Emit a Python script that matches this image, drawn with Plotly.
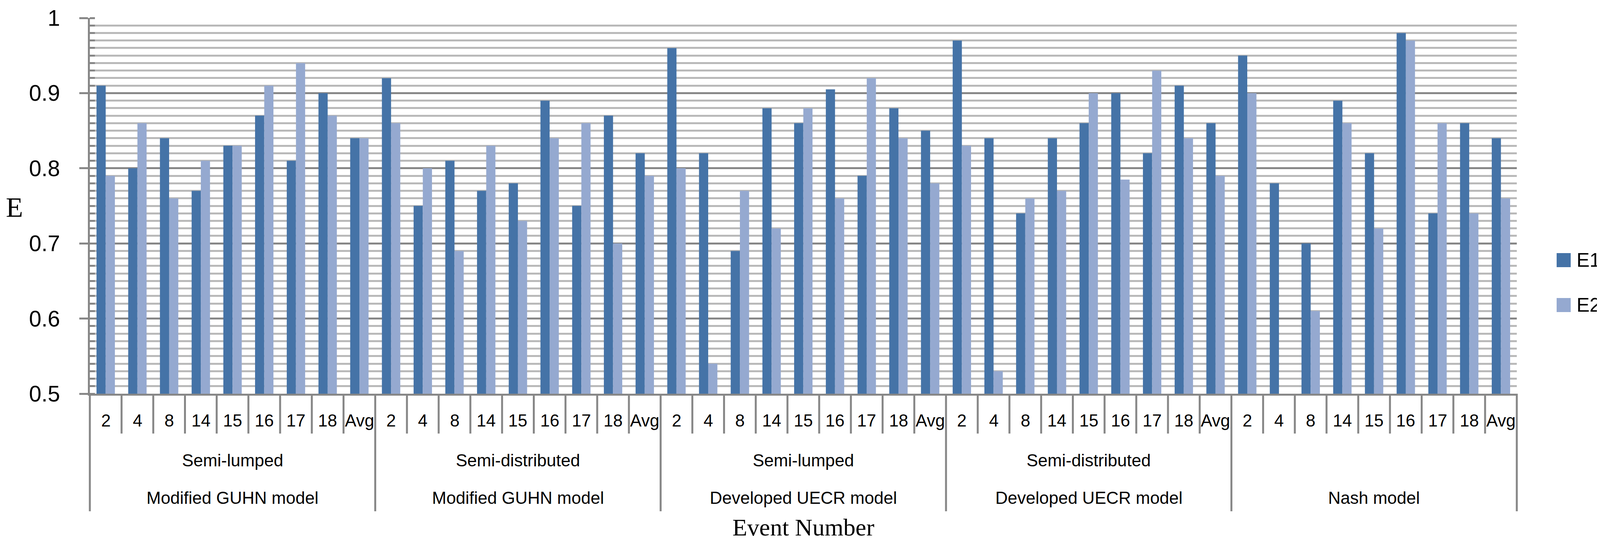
import plotly.graph_objects as go

# ---------------- data ----------------
events = ["2", "4", "8", "14", "15", "16", "17", "18", "Avg"]
approach = ["Semi-lumped", "Semi-distributed", "Semi-lumped", "Semi-distributed", ""]
models = ["Modified GUHN model", "Modified GUHN model", "Developed UECR model",
          "Developed UECR model", "Nash model"]

e1_guhn_sl = [0.91, 0.80, 0.84, 0.77, 0.83, 0.87, 0.81, 0.90, 0.84]
e1_guhn_sd = [0.92, 0.75, 0.81, 0.77, 0.78, 0.89, 0.75, 0.87, 0.82]
e1_uecr_sl = [0.96, 0.82, 0.69, 0.88, 0.86, 0.905, 0.79, 0.88, 0.85]
e1_uecr_sd = [0.97, 0.84, 0.74, 0.84, 0.86, 0.90, 0.82, 0.91, 0.86]
e1_nash = [0.95, 0.78, 0.70, 0.89, 0.82, 0.98, 0.74, 0.86, 0.84]

e2_guhn_sl = [0.79, 0.86, 0.76, 0.81, 0.83, 0.91, 0.94, 0.87, 0.84]
e2_guhn_sd = [0.86, 0.80, 0.69, 0.83, 0.73, 0.84, 0.86, 0.70, 0.79]
e2_uecr_sl = [0.80, 0.54, 0.77, 0.72, 0.88, 0.76, 0.92, 0.84, 0.78]
e2_uecr_sd = [0.83, 0.53, 0.76, 0.77, 0.90, 0.785, 0.93, 0.84, 0.79]
e2_nash = [0.90, 0.498, 0.61, 0.86, 0.72, 0.97, 0.86, 0.74, 0.76]

series_names = ["E1", "E2"]
y_ticks = [0.5, 0.6, 0.7, 0.8, 0.9, 1.0]

# ---------------- layout constants ----------------
W, H = 4099, 1380
L, R, T, B = 222, 224, 38, 380
PW, PH = W - L - R, H - T - B
GRID_MAJOR = "#878787"
GRID_MINOR = "#b9b9b9"
C1, C2 = "#4573a7", "#95a9d0"
SANS = "Liberation Sans, Arial, sans-serif"
SERIF = "Liberation Serif, Times New Roman, serif"


def py2paper(py):
    return (H - B - py) / PH


def px2paper(px):
    return (px - L) / PW


e1_groups = [e1_guhn_sl, e1_guhn_sd, e1_uecr_sl, e1_uecr_sd, e1_nash]
e2_groups = [e2_guhn_sl, e2_guhn_sd, e2_uecr_sl, e2_uecr_sd, e2_nash]
n_ev = len(events)
n_grp = len(models)

xs, e1_vals, e2_vals, hover_lbl = [], [], [], []
for g in range(n_grp):
    for i, ev in enumerate(events):
        xs.append(g * n_ev + i)
        e1_vals.append(e1_groups[g][i])
        e2_vals.append(e2_groups[g][i])
        hover_lbl.append(f"{models[g]} {approach[g]} - {ev}")

fig = go.Figure()
fig.add_trace(go.Bar(x=xs, y=e1_vals, name=series_names[0], marker_color=C1,
                     marker_line_width=0, customdata=hover_lbl,
                     hovertemplate="%{customdata}<br>E1=%{y}<extra></extra>"))
fig.add_trace(go.Bar(x=xs, y=e2_vals, name=series_names[1], marker_color=C2,
                     marker_line_width=0, customdata=hover_lbl,
                     hovertemplate="%{customdata}<br>E2=%{y}<extra></extra>"))

annotations = []
shapes = []

# event labels and short dividers
for g in range(n_grp):
    for i, ev in enumerate(events):
        annotations.append(dict(x=g * n_ev + i, xref="x", y=py2paper(1068), yref="paper",
                                text=ev, showarrow=False, yanchor="middle",
                                font=dict(family=SANS, size=44, color="black")))
        if i < n_ev - 1:
            shapes.append(dict(type="line", xref="x", yref="paper",
                               x0=g * n_ev + i + 0.5, x1=g * n_ev + i + 0.5,
                               y0=0, y1=py2paper(1102),
                               line=dict(color=GRID_MAJOR, width=5)))
    center = g * n_ev + (n_ev - 1) / 2
    if approach[g]:
        annotations.append(dict(x=center, xref="x", y=py2paper(1170), yref="paper",
                                text=approach[g], showarrow=False, yanchor="middle",
                                font=dict(family=SANS, size=44, color="black")))
    annotations.append(dict(x=center, xref="x", y=py2paper(1266), yref="paper",
                            text=models[g], showarrow=False, yanchor="middle",
                            font=dict(family=SANS, size=44, color="black")))
    if g > 0:
        shapes.append(dict(type="line", xref="x", yref="paper",
                           x0=g * n_ev - 0.5, x1=g * n_ev - 0.5,
                           y0=0, y1=py2paper(1301),
                           line=dict(color=GRID_MAJOR, width=5)))

# outer edges of the category table
for xd in (0, 1):
    shapes.append(dict(type="line", xref="x domain", yref="paper", x0=xd, x1=xd,
                       y0=0, y1=py2paper(1301), line=dict(color=GRID_MAJOR, width=5)))

# manual legend (large square keys)
for k, (nm, col) in enumerate(zip(series_names, [C1, C2])):
    top = 640 + k * 115
    shapes.append(dict(type="rect", xref="paper", yref="paper",
                       x0=px2paper(3977), x1=px2paper(4013),
                       y0=py2paper(top + 36), y1=py2paper(top),
                       fillcolor=col, line=dict(width=0)))
    annotations.append(dict(x=px2paper(4026), xref="paper", y=py2paper(top + 18), yref="paper",
                            text=nm, showarrow=False, xanchor="left", yanchor="middle",
                            font=dict(family=SANS, size=50, color="black")))

# axis title "Event Number"
annotations.append(dict(x=0.5, xref="paper", y=py2paper(1378), yref="paper",
                        text="Event Number", showarrow=False, yanchor="bottom",
                        font=dict(family=SERIF, size=62, color="black")))
# axis title "E"
annotations.append(dict(x=px2paper(29), xref="paper", y=py2paper(523), yref="paper",
                        text="E", showarrow=False, xanchor="center", yanchor="middle",
                        font=dict(family=SERIF, size=72, color="black")))

fig.update_layout(
    width=W, height=H,
    margin=dict(l=L, r=R, t=T, b=B, autoexpand=False),
    paper_bgcolor="white", plot_bgcolor="white",
    barmode="group", bargap=0.42, bargroupgap=0,
    showlegend=False,
    annotations=annotations, shapes=shapes,
    xaxis=dict(range=[-0.5, n_grp * n_ev - 0.5], showticklabels=False, ticks="",
               showgrid=False, zeroline=False, showline=True,
               linecolor=GRID_MAJOR, linewidth=5, automargin=False, fixedrange=True),
    yaxis=dict(range=[0.5, 1.0], tickmode="array", tickvals=y_ticks,
               ticktext=[f"{v:g}" for v in y_ticks],
               showgrid=True, gridcolor=GRID_MAJOR, gridwidth=5,
               ticks="outside", ticklen=22, tickwidth=5, tickcolor=GRID_MAJOR,
               showline=True, linecolor=GRID_MAJOR, linewidth=5, zeroline=False,
               tickfont=dict(family=SANS, size=57, color="black"),
               ticklabelstandoff=38, automargin=False,
               minor=dict(tick0=0.5, dtick=0.01, showgrid=True, gridcolor=GRID_MINOR,
                          gridwidth=5, ticks="inside", ticklen=13, tickwidth=5,
                          tickcolor=GRID_MAJOR)),
)

fig.write_html("out.html")
